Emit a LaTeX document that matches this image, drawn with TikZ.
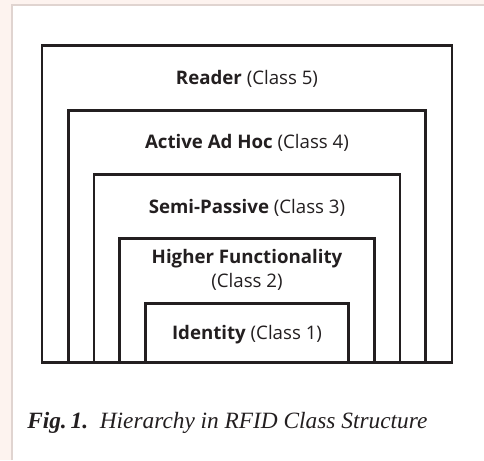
\documentclass[tikz,border=0pt]{standalone}
\usepackage{fontspec}
\setsansfont{Open Sans}
\newfontfamily\capfont{Liberation Serif}
\usepackage{tikz}
\usetikzlibrary{positioning}

\definecolor{pagepink}{RGB}{253,243,239}
\definecolor{panelrule}{RGB}{224,212,208}
\definecolor{ink}{RGB}{35,31,32}

\begin{document}
\begin{tikzpicture}[
		x=0.75pt, y=-0.75pt,
		classbox/.style = {draw=ink, line width=2.2pt, rectangle, anchor=south, inner sep=0pt},
		classlbl/.style = {font=\sffamily\fontsize{14}{18.5}\selectfont, text=ink, align=center, inner sep=1pt},
		caption/.style  = {font=\capfont\itshape\fontsize{17.5}{20}\selectfont, text=ink, anchor=west, inner sep=0pt}]
		
		% page background and white panel
		\fill[pagepink] (0,0) rectangle (484,460);
		\useasboundingbox (0,0) rectangle (484,460);
		\fill[white] (12,5) rectangle (484,460);
		\draw[panelrule, line width=0.8pt] (12,460) -- (12,5) -- (484,5);
		
		% nested class boxes, all standing on the same base line
		\coordinate (base) at (247,364);
		\node[classbox, minimum width=307.5pt,  minimum height=237.75pt] (c5) at (base) {};
		\node[classbox, minimum width=267.75pt, minimum height=189pt]    (c4) at (base) {};
		\node[classbox, minimum width=229.5pt,  minimum height=141pt]    (c3) at (base) {};
		\node[classbox, minimum width=191.25pt, minimum height=93pt]     (c2) at (base) {};
		\node[classbox, minimum width=152.25pt, minimum height=44.25pt]  (c1) at (base) {};
		
		% labels under the top edge of each box
		\node[classlbl] (l5) at ([yshift=-26.25pt]c5.north) {\textbf{Reader} (Class 5)};
		\node[classlbl] (l4) at ([yshift=-25.5pt]c4.north)  {\textbf{Active Ad Hoc} (Class 4)};
		\node[classlbl] (l3) at ([yshift=-26.25pt]c3.north) {\textbf{Semi-Passive} (Class 3)};
		\node[classlbl] (l2) at ([yshift=-24.5pt]c2.north)  {\textbf{Higher Functionality}\\(Class 2)};
		\node[classlbl] (l1) at ([yshift=-24.5pt]c1.north)  {\textbf{Identity} (Class 1)};
		
		% caption
		\node[caption] (cap) at (27,423) {\textbf{Fig.\,1.}\ \ Hierarchy in RFID Class Structure};
		
	\end{tikzpicture}
\end{document}
